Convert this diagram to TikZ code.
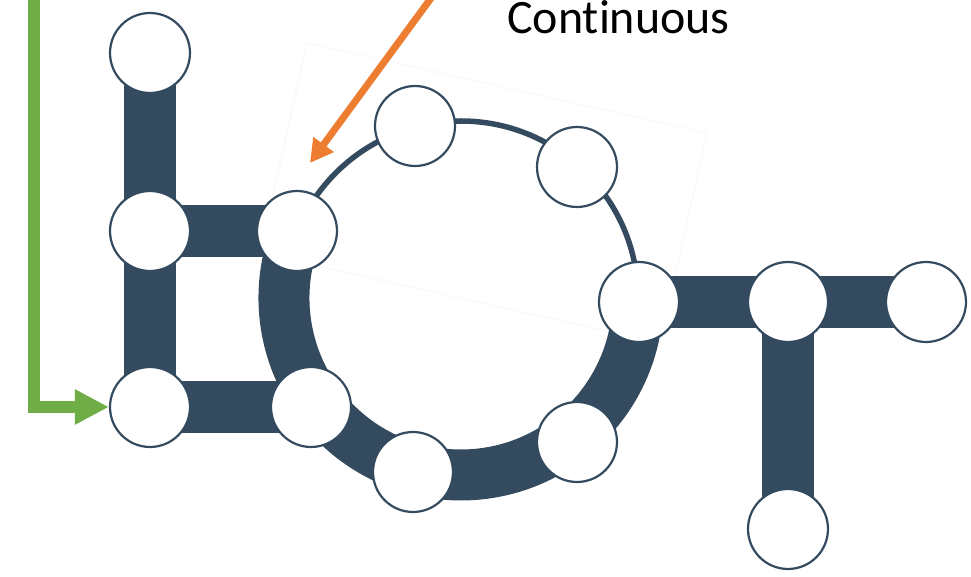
\documentclass[tikz,border=0pt]{standalone}
\usepackage{fontspec}
\setmainfont{Carlito}[Ligatures=NoCommon]
\usetikzlibrary{arrows.meta,backgrounds}
\definecolor{navy}{HTML}{344A5F}
\definecolor{green}{HTML}{70AD47}
\definecolor{orange}{HTML}{ED7D31}
\tikzset{bead/.style={circle,draw=navy,line width=1.25pt,fill=white,minimum size=1.6cm,inner sep=0pt},bar/.style={navy,line width=1.03cm},wire/.style={navy,line width=0.11cm},garr/.style={-{Triangle[length=0.68cm,width=0.66cm]},green,line width=0.24cm},oarr/.style={-{Triangle[length=0.46cm,width=0.48cm]},orange,line width=0.14cm}}

\begin{document}
\begin{tikzpicture}[x=0.02cm,y=0.02cm]
\useasboundingbox (0,0) rectangle (971,-577);
% left ladder
\node[bead] (A) at (150,-53) {};
\node[bead] (B) at (150,-231) {};
\node[bead] (C) at (150,-407) {};
% ring beads
\coordinate (ctr) at (461,-298);
\node[bead] (D) at (297,-231) {};
\node[bead] (E) at (311,-407) {};
\node[bead] (F) at (413,-472) {};
\node[bead] (G) at (577,-442) {};
\node[bead] (H) at (639,-302) {};
\node[bead] (I) at (577,-167) {};
\node[bead] (J) at (415,-126) {};
% T branch
\node[bead] (K) at (788,-302) {};
\node[bead] (L) at (926,-302) {};
\node[bead] (M) at (788,-529) {};
\begin{pgfonlayer}{background}
\draw[black!3,line width=0.5pt] (307,-43) -- (707,-133) -- (660,-343) -- (260,-253) -- cycle;
\draw[bar] (A.center)--(B.center); \draw[bar] (B.center)--(C.center);
\draw[bar] (B.center)--(D.center); \draw[bar] (C.center)--(E.center);
\draw[bar] (H.center)--(K.center); \draw[bar] (K.center)--(L.center); \draw[bar] (K.center)--(M.center);
\draw[bar,line width=1.02cm] ([shift={(158:177)}]ctr) arc[start angle=158,end angle=360,radius=177];
\draw[wire] ([shift={(0:177)}]ctr) arc[start angle=0,end angle=158,radius=177];
\end{pgfonlayer}
% pointers
\coordinate (gtop) at (34,10);
\draw[garr] (gtop) |- (C);
\coordinate (otop) at (437,10);
\coordinate (otip) at (310,-163);
\draw[oarr] (otop)--(otip);
\node[font=\fontsize{27.3}{32}\selectfont,anchor=base west,inner sep=0pt] (lbl) at (507,-34) {Continuous};
\end{tikzpicture}
\end{document}
